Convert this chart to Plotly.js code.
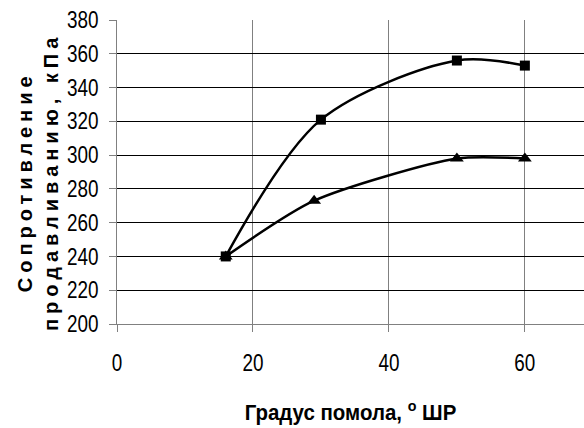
<!DOCTYPE html>
<html>
<head>
<meta charset="utf-8">
<script src="https://cdn.plot.ly/plotly-3.0.1.min.js"></script>
<style>
html,body{margin:0;padding:0;background:#fff;overflow:hidden;}
#chart{width:584px;height:428px;}
</style>
</head>
<body>
<div id="chart"></div>
<script>
// Data
const xSquares = [16, 30, 50, 60];
const ySquares = [240, 321, 356, 353];
const xTriangles = [16, 29, 50, 60];
const yTriangles = [240, 273, 298, 298];
const xTicks = [0, 20, 40, 60];
const yTicks = [200, 220, 240, 260, 280, 300, 320, 340, 360, 380];
const xTitle = 'Градус помола, <sup>o</sup> ШР';
const yTitle = 'Сопротивление<br>продавливанию, кПа';

const sans = '"Liberation Sans", Arial, sans-serif';

const traces = [
  {
    x: xTriangles, y: yTriangles, type: 'scatter', mode: 'lines+markers',
    line: {color: '#000', width: 2.5, shape: 'spline', smoothing: 0.7},
    marker: {symbol: 'triangle-up', size: 12, color: '#000'},
    showlegend: false, hoverinfo: 'skip'
  },
  {
    x: xSquares, y: ySquares, type: 'scatter', mode: 'lines+markers',
    line: {color: '#000', width: 2.5, shape: 'spline', smoothing: 0.9},
    marker: {symbol: 'square', size: 10, color: '#000'},
    showlegend: false, hoverinfo: 'skip'
  }
];

const layout = {
  width: 584, height: 428,
  margin: {l: 117, r: 0, t: 20, b: 104},
  paper_bgcolor: '#fff', plot_bgcolor: '#fff',
  showlegend: false,
  xaxis: {
    range: [0, 68.7], tickvals: xTicks, ticktext: xTicks.map(String),
    showgrid: true, gridcolor: '#808080', gridwidth: 1,
    zeroline: false, showline: true, linecolor: '#808080', linewidth: 1,
    ticks: 'outside', ticklen: 7, tickcolor: '#808080', tickwidth: 1,
    ticklabelstandoff: 11,
    tickfont: {family: sans, size: 23, color: '#000'},
    title: {text: xTitle, font: {family: sans, size: 22, color: '#000', weight: 'bold'}, standoff: 30},
    fixedrange: true
  },
  yaxis: {
    range: [200, 380], tickvals: yTicks, ticktext: yTicks.map(String),
    showgrid: true, gridcolor: '#000', gridwidth: 1,
    zeroline: false, showline: true, linecolor: '#808080', linewidth: 1,
    ticks: 'outside', ticklen: 7, tickcolor: '#808080', tickwidth: 1,
    ticklabelstandoff: 6,
    tickfont: {family: sans, size: 23, color: '#000'},
    fixedrange: true
  },
  annotations: [{
    text: yTitle, textangle: -90, showarrow: false,
    xref: 'paper', yref: 'paper', x: 0, y: 0.5,
    xanchor: 'center', yanchor: 'middle', xshift: -79, yshift: -10,
    font: {family: sans, size: 20, color: '#000', weight: 'bold'},
    align: 'center'
  }]
};

function condense(sel, f) {
  document.querySelectorAll(sel).forEach(function (t) {
    const L = t.getComputedTextLength();
    if (L > 0) {
      t.setAttribute('textLength', (L * f).toFixed(1));
      t.setAttribute('lengthAdjust', 'spacingAndGlyphs');
    }
  });
}

Plotly.newPlot('chart', traces, layout, {staticPlot: true, displayModeBar: false}).then(function () {
  condense('.xtick text, .ytick text', 0.82);
  condense('.g-xtitle text', 0.93);
  document.querySelectorAll('.annotation-text').forEach(function (t) {
    t.style.letterSpacing = '5px';
  });
});
</script>
</body>
</html>
